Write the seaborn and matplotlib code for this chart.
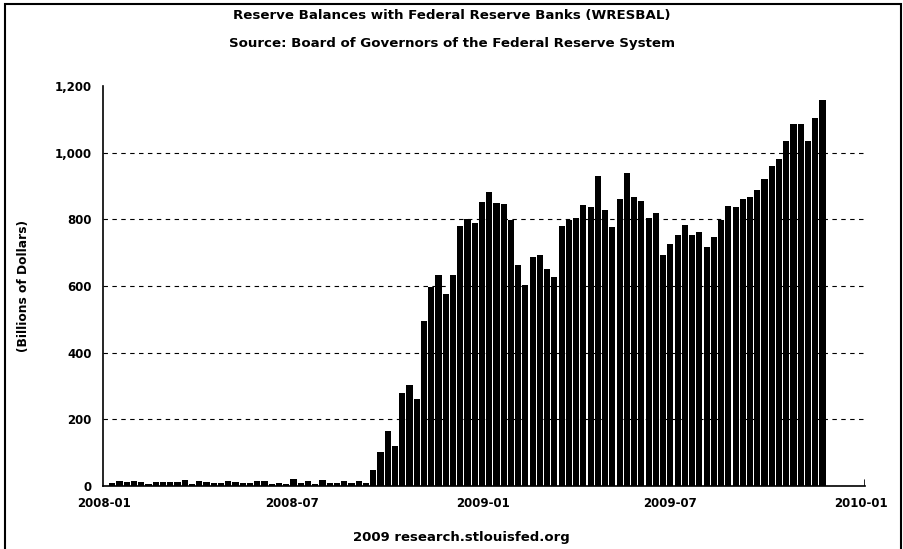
import numpy as np
import pandas as pd
import matplotlib
matplotlib.use("Agg")
import matplotlib.pyplot as plt
import matplotlib.dates as mdates
import matplotlib.patches as mpatches
from matplotlib.ticker import FuncFormatter
import seaborn as sns

# weekly reserve balances, billions of dollars
start_date = "2008-01-09"
reserves = [
    8, 14, 11, 15, 11, 7, 11, 11, 11, 11, 19, 6, 14, 12, 10, 10, 14, 11,
    10, 10, 14, 14, 6, 9, 6, 20, 10, 14, 6, 17, 10, 10, 14, 10, 14, 10,
    48, 103, 166, 120, 280, 303, 260, 496, 596, 632, 576, 633, 780, 800,
    788, 852, 882, 848, 845, 798, 663, 603, 688, 693, 650, 628, 780, 798,
    803, 843, 838, 930, 828, 778, 860, 938, 868, 856, 803, 818, 692, 726,
    752, 782, 752, 763, 718, 748, 798, 841, 838, 860, 867, 888, 922, 961,
    982, 1034, 1086, 1086, 1034, 1103, 1158,
]
y_ticks = [0, 200, 400, 600, 800, 1000, 1200]
x_start, x_end = "2007-12-31", "2010-01-05"

title_1 = "Reserve Balances with Federal Reserve Banks (WRESBAL)"
title_2 = "Source: Board of Governors of the Federal Reserve System"
y_label = "(Billions of Dollars)"
footer = "2009 research.stlouisfed.org"

weeks = pd.date_range(start_date, periods=len(reserves), freq="7D")
df = pd.DataFrame({"date": mdates.date2num(weeks), "reserves": reserves})

sns.set_style("white")
plt.rcParams["font.family"] = ["DejaVu Sans"]
plt.rcParams["font.weight"] = "bold"
for key in ["text.color", "axes.labelcolor", "xtick.color", "ytick.color"]:
    plt.rcParams[key] = "black"

W, H = 904, 549
fig = plt.figure(figsize=(W / 100, H / 100), dpi=100)
ax = fig.add_axes([103 / W, 63 / H, (865 - 103) / W, (486 - 86) / H])

sns.barplot(data=df, x="date", y="reserves", native_scale=True,
            color="black", saturation=1, width=0.85, errorbar=None,
            linewidth=0, ax=ax)

ax.set_xlim(mdates.date2num(pd.Timestamp(x_start)),
            mdates.date2num(pd.Timestamp(x_end)))
ax.set_ylim(0, 1200)
ax.xaxis.set_major_locator(mdates.MonthLocator(bymonth=[1, 7]))
ax.xaxis.set_major_formatter(mdates.DateFormatter("%Y-%m"))
ax.set_yticks(y_ticks)
ax.yaxis.set_major_formatter(FuncFormatter(lambda v, p: f"{int(v):,}"))

ax.set_axisbelow(True)
ax.yaxis.grid(True, color="black", linestyle=(0, (4, 4)), linewidth=0.8)
for gl in ax.yaxis.get_gridlines()[-1:]:
    gl.set_visible(False)
ax.xaxis.grid(False)

for side in ["top", "right"]:
    ax.spines[side].set_visible(False)
for side in ["left", "bottom"]:
    ax.spines[side].set_color("black")
    ax.spines[side].set_linewidth(1.2)

ax.tick_params(axis="y", direction="in", length=5, width=1.2,
               labelsize=8.5, pad=8)
ax.tick_params(axis="x", direction="in", length=0, labelsize=8.5, pad=8)
ax.axvline(ax.get_xlim()[1], ymin=0, ymax=0.015, color="black", lw=1.2)

ax.set_xlabel("")
ax.set_ylabel(y_label, fontsize=8.8, fontweight="bold", labelpad=18)

fig.text(452 / W, 1 - 16 / H, title_1, ha="center", va="center",
         fontsize=9.6, fontweight="bold")
fig.text(452 / W, 1 - 44 / H, title_2, ha="center", va="center",
         fontsize=9.6, fontweight="bold")
fig.text(461 / W, 1 - 537 / H, footer, ha="center", va="center",
         fontsize=9.5, fontweight="bold")

fig.patches.append(mpatches.Rectangle((5 / W, -0.02), 896 / W, 1 - 4 / H + 0.02,
                                      transform=fig.transFigure, fill=False,
                                      edgecolor="black", linewidth=1.5))

fig.savefig("out.png", dpi=100)
